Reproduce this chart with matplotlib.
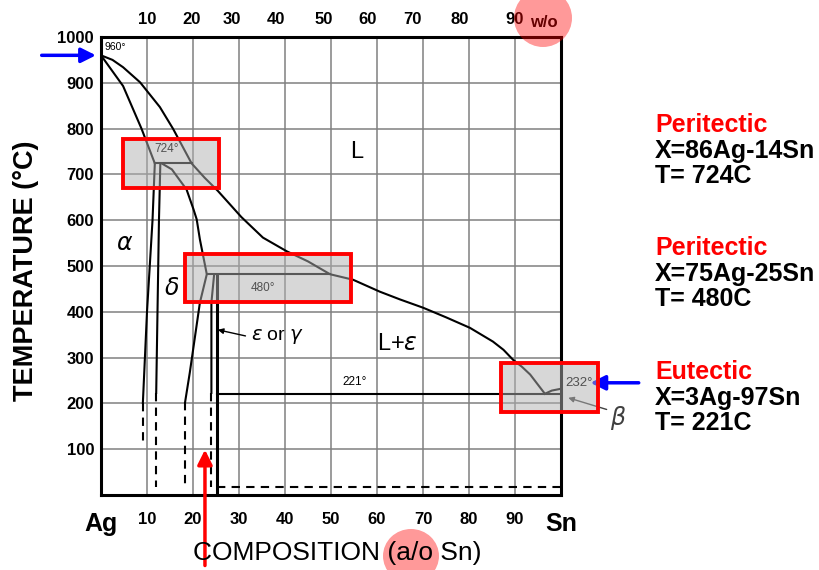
import matplotlib
matplotlib.use("Agg")
import matplotlib.pyplot as plt
from matplotlib.patches import Rectangle, Ellipse

plt.rcParams['font.family'] = ['Liberation Sans', 'DejaVu Sans']

# --- phase boundaries (composition in a/o Sn, temperature in C) ---
liq_x = [0, 2.5, 4.8, 8.5, 12.8, 15.7, 19.7, 22.5, 25.4, 28.0, 30.5, 35.2, 40.4, 45.0, 49.8,
         54.8, 60.6, 65.0, 70.0, 75.0, 80.2, 85.2, 87.5, 89.6, 91.5, 93.3, 96.5]
liq_T = [960, 950, 934, 901, 847, 799, 724, 693, 664, 635, 607, 562, 532, 510, 482,
         470, 444, 427, 409, 388, 365, 335, 317, 295, 280, 263, 221]
sn_x = [96.5, 98.0, 100]
sn_T = [221, 228, 232]

a_sol_x = [0, 4.8, 8.8, 11.7]
a_sol_T = [960, 893, 800, 724]
a_solv_x = [11.7, 11.2, 10.0, 9.1]
a_solv_T = [724, 600, 400, 201]
a_dash_x = [9.1, 9.1]
a_dash_T = [201, 114]

d_left_x = [12.9, 12.6, 12.0]
d_left_T = [724, 600, 223]
d_left_dash_x = [12.0, 12.0]
d_left_dash_T = [223, 17]

d_right_x = [13.2, 15.4, 18.6, 20.1, 20.8, 21.5, 23.0, 21.5, 19.3, 18.3]
d_right_T = [724, 711, 667, 624, 602, 558, 482, 420, 267, 204]
d_right_dash_x = [18.3, 18.3]
d_right_dash_T = [204, 17]

e_left_x = [24.6, 24.0, 24.0]
e_left_T = [482, 420, 223]
e_left_dash_x = [24.0, 24.0]
e_left_dash_T = [223, 17]
e_right_x = [25.3, 25.3]
e_right_T = [480, 0]

per1_x = [11.7, 19.7]
per1_T = [724, 724]
per2_x = [23.0, 49.8]
per2_T = [482, 482]
eut_x = [25.3, 100]
eut_T = [221, 221]
low_x = [25.3, 100]
low_T = [17, 17]

# axis ticks
bot_ticks = [0, 10, 20, 30, 40, 50, 60, 70, 80, 90, 100]
bot_labels = ['Ag', '10', '20', '30', '40', '50', '60', '70', '80', '90', 'Sn']
top_ticks = [10, 19.6, 28.5, 38.0, 48.5, 58.0, 67.8, 78.0, 90.0]
top_labels = ['10', '20', '30', '40', '50', '60', '70', '80', '90']
y_ticks = [100, 200, 300, 400, 500, 600, 700, 800, 900, 1000]

# highlighted regions (x0, T0, x1, T1)
boxes = [(4.8, 670, 25.7, 777), (18.3, 422, 54.3, 527), (87.0, 182, 108.0, 289)]

notes = [("Peritectic", "X=86Ag-14Sn", "T= 724C"),
         ("Peritectic", "X=75Ag-25Sn", "T= 480C"),
         ("Eutectic", "X=3Ag-97Sn", "T= 221C")]
note_y = [125, 248, 372]

fig = plt.figure(figsize=(8.19, 5.70), dpi=100)
ax = fig.add_axes([101 / 819, 1 - 495 / 570, 460 / 819, 458 / 570])
ax.set_xlim(0, 100)
ax.set_ylim(0, 1000)

ax.grid(True, color='#808080', lw=1.1)
ax.set_axisbelow(True)
for s in ax.spines.values():
    s.set_linewidth(2.2)

k = dict(color='black', lw=1.5, zorder=3)
ax.plot(liq_x, liq_T, **k)
ax.plot(sn_x, sn_T, **k)
ax.plot(a_sol_x, a_sol_T, **k)
ax.plot(a_solv_x, a_solv_T, **k)
ax.plot(d_left_x, d_left_T, **k)
ax.plot(d_right_x, d_right_T, **k)
ax.plot(e_left_x, e_left_T, **k)
ax.plot(e_right_x, e_right_T, color='black', lw=2.2, zorder=3)
ax.plot(per1_x, per1_T, **k)
ax.plot(per2_x, per2_T, **k)
ax.plot(eut_x, eut_T, **k)
dk = dict(color='black', lw=1.5, ls=(0, (4, 3)), zorder=3)
ax.plot(a_dash_x, a_dash_T, **dk)
ax.plot(d_left_dash_x, d_left_dash_T, **dk)
ax.plot(d_right_dash_x, d_right_dash_T, **dk)
ax.plot(e_left_dash_x, e_left_dash_T, **dk)
ax.plot(low_x, low_T, **dk)

# boxes
for x0, t0, x1, t1 in boxes:
    ax.add_patch(Rectangle((x0, t0), x1 - x0, t1 - t0, facecolor='#b0b0b0', alpha=0.5,
                           edgecolor='none', zorder=4, clip_on=False))
    ax.add_patch(Rectangle((x0, t0), x1 - x0, t1 - t0, facecolor='none',
                           edgecolor='#ff0000', lw=2.8, zorder=5, clip_on=False))

# ticks
ax.set_xticks(bot_ticks)
ax.set_xticklabels(bot_labels, fontsize=12, fontweight='bold')
for lab in (ax.get_xticklabels()[0], ax.get_xticklabels()[-1]):
    lab.set_fontsize(18)
ax.set_yticks(y_ticks)
ax.set_yticklabels([str(v) for v in y_ticks], fontsize=12, fontweight='bold')
ax.tick_params(length=0, pad=5)
ax.tick_params(axis='x', pad=12)

top = ax.twiny()
top.set_xlim(0, 100)
top.set_xticks(top_ticks)
top.set_xticklabels(top_labels, fontsize=12, fontweight='bold')
top.tick_params(length=0, pad=7)
for s in top.spines.values():
    s.set_visible(False)
ax.text(93.2, 1016, 'w/o', fontsize=12, fontweight='bold', ha='left', va='bottom')

ax.set_ylabel('TEMPERATURE (\u00b0C)', fontsize=19.5, fontweight='bold')
ax.yaxis.set_label_coords(-0.134, 0.49)
fig.text(337 / 819, 1 - 553 / 570, 'COMPOSITION (a/o Sn)', fontsize=19, ha='center', va='center')

# labels on the diagram
ax.text(0.8, 972, '960\u00b0', fontsize=7.5, zorder=6)
ax.text(11.5, 748, '724\u00b0', fontsize=8.5, color='#505050', zorder=6)
ax.text(32.5, 445, '480\u00b0', fontsize=8.5, color='#505050', zorder=6)
ax.text(52.5, 240, '221\u00b0', fontsize=8.5, zorder=6)
ax.text(100.9, 245, '232\u00b0', fontsize=9.5, color='#505050', zorder=6, va='center', clip_on=False)
ax.text(55.5, 750, 'L', fontsize=17, va='center', ha='center')
ax.text(5.2, 547, r'$\alpha$', fontsize=17, va='center', ha='center')
ax.text(15.4, 449, r'$\delta$', fontsize=17, va='center', ha='center')
ax.text(64.5, 330, r'L+$\varepsilon$', fontsize=17, va='center', ha='center')
ax.text(32.5, 346, r'$\varepsilon$ or $\gamma$', fontsize=14, va='center', ha='left')
ax.text(112.5, 168, r'$\beta$', fontsize=17, va='center', ha='center', color='#404040', clip_on=False)
ax.annotate('', xy=(24.8, 362), xytext=(32.0, 346),
            arrowprops=dict(arrowstyle='-|>', color='black', lw=1.0, mutation_scale=8))
ax.annotate('', xy=(101.0, 214), xytext=(110.5, 185), annotation_clip=False,
            arrowprops=dict(arrowstyle='-|>', color='#404040', lw=1.0, mutation_scale=8))

# highlight arrows
ax.annotate('', xy=(-0.5, 960), xytext=(-13.5, 960), annotation_clip=False,
            arrowprops=dict(arrowstyle='-|>', color='#0000ff', lw=2.5, mutation_scale=22))
ax.annotate('', xy=(105.8, 245), xytext=(117.5, 245), annotation_clip=False,
            arrowprops=dict(arrowstyle='-|>', color='#0000ff', lw=2.5, mutation_scale=22))
ax.annotate('', xy=(22.6, 105), xytext=(22.6, -160), annotation_clip=False,
            arrowprops=dict(arrowstyle='-|>', color='#ff0000', lw=2.5, mutation_scale=22))

# red circles
fig.patches.append(Ellipse((543 / 819, 1 - 18 / 570), 58 / 819, 58 / 570, transform=fig.transFigure,
                           facecolor='#ff0000', alpha=0.4, edgecolor='none', zorder=0))
fig.patches.append(Ellipse((411 / 819, 1 - 556 / 570), 56 / 819, 54 / 570, transform=fig.transFigure,
                           facecolor='#ff0000', alpha=0.4, edgecolor='none', zorder=0))

# notes on the right
for (head, comp, temp), y in zip(notes, note_y):
    fig.text(655 / 819, 1 - y / 570, head, color='#ff0000', fontsize=18, fontweight='bold', va='center')
    fig.text(655 / 819, 1 - (y + 26) / 570, comp, color='black', fontsize=18, fontweight='bold', va='center')
    fig.text(655 / 819, 1 - (y + 51) / 570, temp, color='black', fontsize=18, fontweight='bold', va='center')

fig.savefig('out.png', dpi=100)
